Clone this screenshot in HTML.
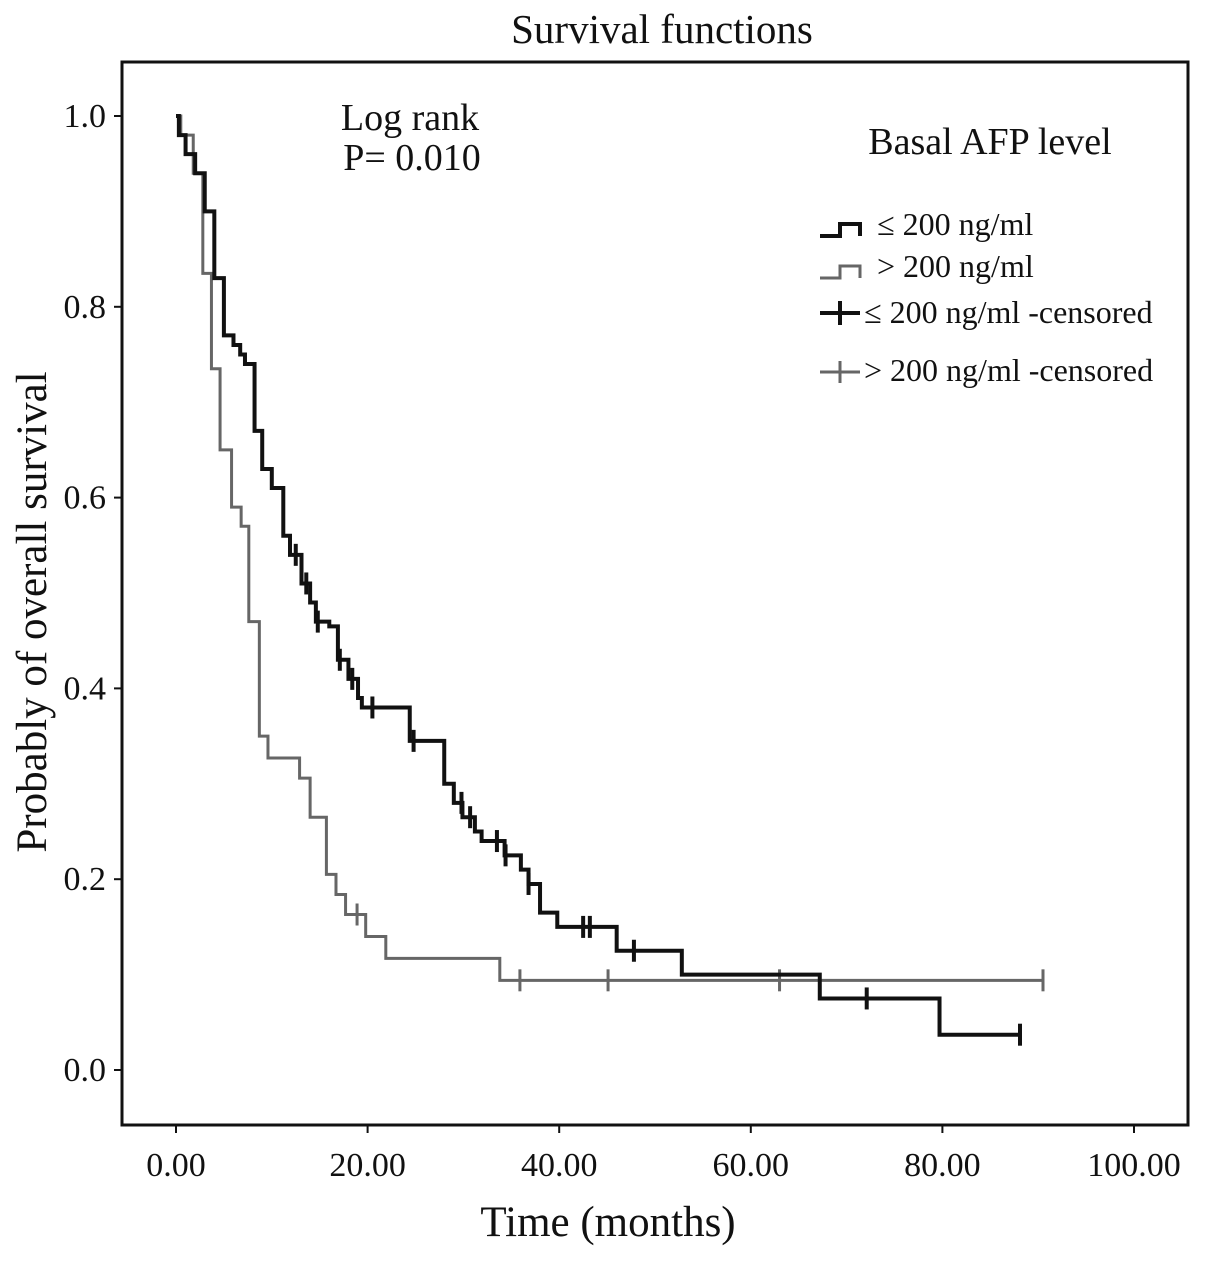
<!DOCTYPE html>
<html><head><meta charset="utf-8"><style>
body{margin:0;background:#fff;}
svg text{font-family:"Liberation Serif",serif;fill:#111;}
</style></head><body>
<svg id="c" width="1205" height="1261" xmlns="http://www.w3.org/2000/svg">
<text x="662" y="43" font-size="41" text-anchor="middle">Survival functions</text>
<rect x="122" y="62" width="1066" height="1063" fill="none" stroke="#111" stroke-width="3"/>
<g id="axes"></g>
<g id="series"></g>
<text x="410" y="130" font-size="38" text-anchor="middle">Log rank</text>
<text x="412" y="170" font-size="38" text-anchor="middle">P= 0.010</text>
<text x="990" y="154" font-size="38" text-anchor="middle">Basal AFP level</text>
<g>
<path d="M820 236 H840 V224 H860 V236" fill="none" stroke="#111" stroke-width="4"/>
<text x="877" y="235" font-size="32">≤ 200 ng/ml</text>
<path d="M820 278 H840 V266 H860 V278" fill="none" stroke="#666" stroke-width="3"/>
<text x="877" y="277" font-size="32">&gt; 200 ng/ml</text>
<path d="M820 313 H860 M840 301 V325" stroke="#111" stroke-width="4"/>
<text x="864" y="323" font-size="32">≤ 200 ng/ml -censored</text>
<path d="M820 372 H860 M840 361 V383" stroke="#666" stroke-width="3"/>
<text x="864" y="381" font-size="32">&gt; 200 ng/ml -censored</text>
</g>
<text x="608" y="1236" font-size="43" text-anchor="middle">Time  (months)</text>
<text transform="translate(46,612) rotate(-90)" font-size="43" text-anchor="middle">Probably of overall survival</text>
</svg>
<script>
const xTicks=[0,20,40,60,80,100];
const yTicks=[0,0.2,0.4,0.6,0.8,1.0];
const lowTimes=[0,0.3,1,2,3,4,5,6,6.7,7.2,8.2,9,10,11.2,11.9,13.1,14,14.6,16,16.9,18,19,19.4,24.4,28,29,29.9,31.2,31.9,34.3,36,36.8,38,39.8,46,52.8,67.2,79.7,88.3];
const lowSurv=[1.0,0.98,0.96,0.94,0.90,0.83,0.77,0.76,0.75,0.74,0.67,0.63,0.61,0.56,0.54,0.51,0.49,0.47,0.465,0.43,0.41,0.39,0.38,0.345,0.30,0.28,0.265,0.25,0.24,0.225,0.21,0.195,0.165,0.15,0.125,0.10,0.075,0.037,0.037];
const lowCensor=[12.5,13.6,14.8,17.1,18.4,20.5,24.8,29.8,30.7,33.5,34.4,36.8,42.5,43.2,47.8,72.1,88.1];
const highTimes=[0,0.5,1.8,2.8,3.7,4.6,5.8,6.8,7.6,8.7,9.6,12.9,14,15.7,16.7,17.7,19.8,21.9,33.8,90.5];
const highSurv=[1.0,0.98,0.94,0.835,0.735,0.65,0.59,0.57,0.47,0.35,0.327,0.306,0.265,0.205,0.184,0.163,0.14,0.117,0.094,0.094];
const highCensor=[18.9,35.9,45.1,63.0,90.5];
const X=t=>176+t*9.58, Y=s=>1070-s*954;
const NS="http://www.w3.org/2000/svg";
const ax=document.getElementById('axes'), sg=document.getElementById('series');
function mk(tag,attrs,parent){const e=document.createElementNS(NS,tag);for(const k in attrs)e.setAttribute(k,attrs[k]);parent.appendChild(e);return e;}
xTicks.forEach(v=>{
 const l=mk('line',{x1:X(v),x2:X(v),y1:1125,y2:1133,stroke:'#111','stroke-width':2},ax);
 
 
 const t=mk('text',{x:X(v),y:1176,'font-size':34,'text-anchor':'middle'},ax);t.textContent=v.toFixed(2);
 
 
});
yTicks.forEach(v=>{
 const l=mk('line',{x1:114,x2:122,y1:Y(v),y2:Y(v),stroke:'#111','stroke-width':2},ax);
 
 
 const t=mk('text',{x:106,y:Y(v)+11,'font-size':34,'text-anchor':'end'},ax);t.textContent=v.toFixed(1);
 
 
});
function stepPath(ts,ss){let d='M'+X(ts[0])+' '+Y(ss[0]);for(let i=1;i<ts.length;i++){d+=' H'+X(ts[i])+' V'+Y(ss[i]);}return d;}
function survAt(ts,ss,t){let s=ss[0];for(let i=0;i<ts.length;i++)if(ts[i]<=t)s=ss[i];return s;}
function draw(ts,ss,cs,color,w,name){
 const p=mk('path',{d:stepPath(ts,ss),fill:'none',stroke:color,'stroke-width':w},sg);
 
 
 cs.forEach(t=>{const y=Y(survAt(ts,ss,t));
  const c=mk('path',{d:`M${X(t)} ${y-11} V${y+11}`,stroke:color,'stroke-width':w},sg);
  
  
 });
}
draw(highTimes,highSurv,highCensor,'#666',3,'high-afp');
draw(lowTimes,lowSurv,lowCensor,'#111',4,'low-afp');
</script>
</body></html>
